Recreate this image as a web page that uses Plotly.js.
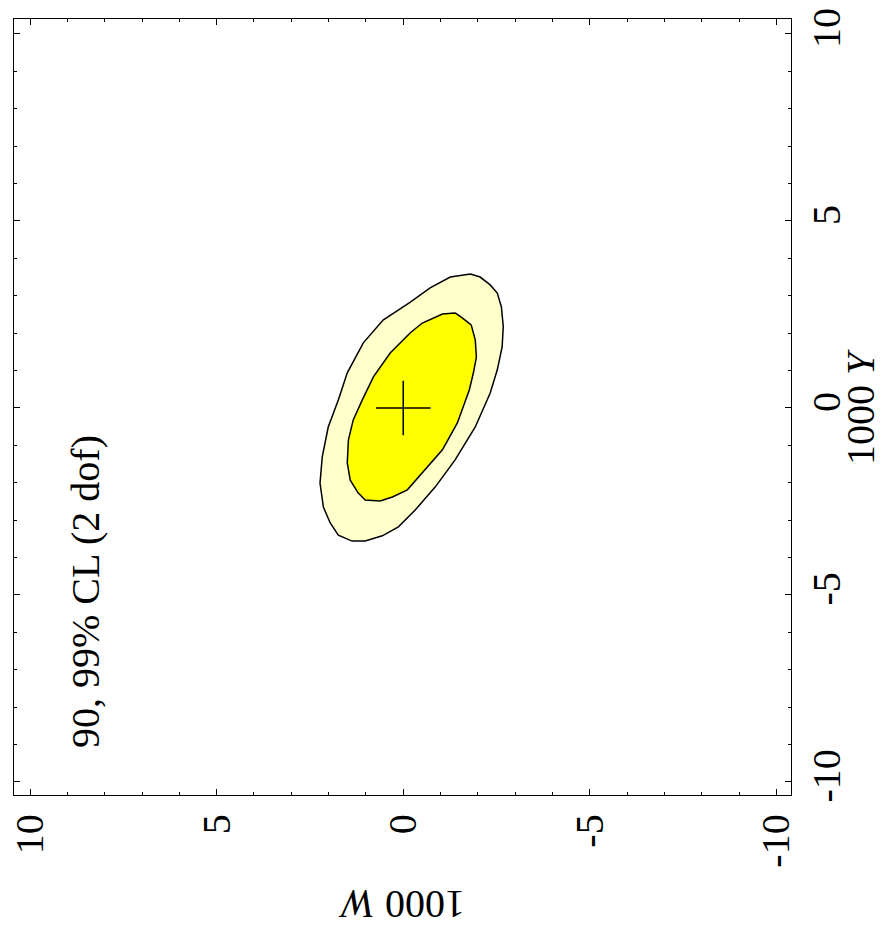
<!DOCTYPE html>
<html>
<head>
<meta charset="utf-8">
<script src="https://cdn.plot.ly/plotly-3.0.1.min.js"></script>
<style>
  html, body { margin: 0; padding: 0; background: #ffffff; }
  #chart { width: 882px; height: 941px; }
</style>
</head>
<body>
<div id="chart"></div>
<script>
// 99% CL contour (outer), values in 1000 W, 1000 Y
const outerW = [-1.80, -2.06, -2.33, -2.52, -2.63, -2.68, -2.65, -2.52, -2.33, -2.25, -1.93, -1.39, -0.86, -0.32, 0.13, 0.56, 1.02, 1.37, 1.74, 1.96, 2.14, 2.23, 2.17, 2.01, 1.74, 1.50, 1.07, 0.54, -0.19, -0.72, -1.26, -1.80];
const outerY = [3.58, 3.50, 3.29, 3.07, 2.70, 2.17, 1.63, 1.02, 0.40, 0.21, -0.51, -1.39, -2.11, -2.73, -3.18, -3.42, -3.56, -3.56, -3.40, -3.07, -2.65, -2.01, -1.31, -0.51, 0.21, 0.94, 1.74, 2.35, 2.83, 3.21, 3.50, 3.58];

// 90% CL contour (inner)
const innerW = [-1.39, -1.58, -1.82, -1.93, -1.96, -1.88, -1.77, -1.61, -1.45, -1.05, -0.51, -0.11, 0.29, 0.62, 1.02, 1.21, 1.42, 1.50, 1.47, 1.34, 1.10, 0.80, 0.35, -0.19, -0.51, -1.05, -1.39];
const innerY = [2.54, 2.41, 2.22, 1.82, 1.36, 0.94, 0.48, 0.03, -0.40, -1.12, -1.74, -2.19, -2.38, -2.49, -2.46, -2.27, -1.93, -1.47, -0.86, -0.32, 0.21, 0.83, 1.47, 2.01, 2.27, 2.51, 2.54];

// best-fit point
const bestW = [0];
const bestY = [0];

const tickVals = [10, 5, 0, -5, -10];
const tickText = ["10", "5", "0", "-5", "-10"];

const FONT = "Liberation Serif, Times New Roman, serif";

const traces = [
  {
    type: "scatter", mode: "lines", x: outerW, y: outerY,
    fill: "toself", fillcolor: "#FFFFCC",
    line: { color: "#000000", width: 1.5 },
    hoverinfo: "skip", showlegend: false
  },
  {
    type: "scatter", mode: "lines", x: innerW, y: innerY,
    fill: "toself", fillcolor: "#FFFF00",
    line: { color: "#000000", width: 1.5 },
    hoverinfo: "skip", showlegend: false
  },
  {
    type: "scatter", mode: "markers", x: bestW, y: bestY,
    marker: { symbol: "cross-thin", size: 39, color: "#000000",
              line: { color: "#000000", width: 1.5 } },
    hoverinfo: "skip", showlegend: false
  }
];

const axisCommon = {
  showline: true, linecolor: "#000000", linewidth: 1.3,
  mirror: "ticks", ticks: "inside", ticklen: 6, tickwidth: 1, tickcolor: "#000000",
  showgrid: false, zeroline: false,
  tickmode: "array", tickvals: tickVals, ticktext: tickText,
  tickangle: -90,
  tickfont: { family: FONT, size: 40, color: "#000000" },
  minor: { ticks: "inside", dtick: 1, ticklen: 3, tickwidth: 1, tickcolor: "#000000", showgrid: false }
};

const layout = {
  width: 882, height: 941,
  margin: { l: 14, r: 91, t: 19, b: 146 },
  paper_bgcolor: "#ffffff", plot_bgcolor: "#ffffff",
  showlegend: false,
  xaxis: Object.assign({}, axisCommon, {
    range: [10.43, -10.39], ticklabelstandoff: 2
  }),
  yaxis: Object.assign({}, axisCommon, {
    range: [-10.35, 10.40], side: "right", ticklabelstandoff: 0
  }),
  annotations: [
    {
      text: "90, 99% CL (2 dof)", xref: "x", yref: "y", x: 8.5, y: -4.92,
      xanchor: "center", yanchor: "middle",
      showarrow: false, textangle: -90,
      font: { family: FONT, size: 40, color: "#000000" }
    },
    {
      text: "1000 <i>Y</i>", xref: "paper", yref: "paper", x: 1.0888, y: 0.50,
      xanchor: "center", yanchor: "middle",
      showarrow: false, textangle: -90,
      font: { family: FONT, size: 40, color: "#000000" }
    },
    {
      text: "1000 <i>W</i>", xref: "paper", yref: "paper", x: 0.498, y: -0.1418,
      xanchor: "center", yanchor: "middle",
      showarrow: false, textangle: 180,
      font: { family: FONT, size: 40, color: "#000000" }
    }
  ]
};

Plotly.newPlot("chart", traces, layout, { displayModeBar: false, staticPlot: true });
</script>
</body>
</html>
